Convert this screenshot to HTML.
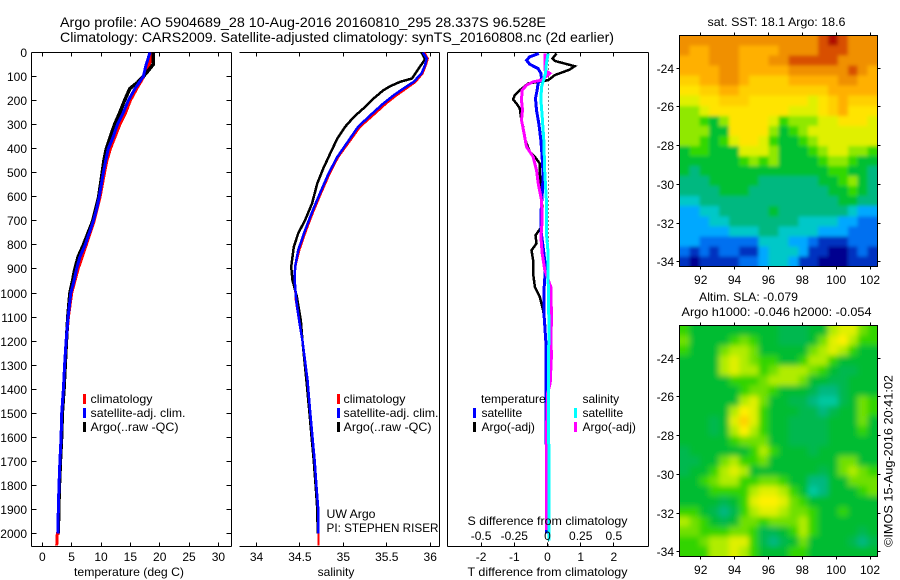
<!DOCTYPE html>
<html lang="en">
<head>
<meta charset="utf-8">
<title>Argo profile chart</title>
<style>
html,body{margin:0;padding:0;background:#fff;width:900px;height:580px;overflow:hidden}
svg{display:block;font-family:"Liberation Sans",Arial,sans-serif;font-size:12px;fill:#000}
.ax{stroke:#000;stroke-width:1;fill:none;shape-rendering:crispEdges}
.ln{fill:none;stroke-linejoin:miter;shape-rendering:crispEdges}
</style>
</head>
<body>
<svg id="chart" xmlns="http://www.w3.org/2000/svg" width="900" height="580" viewBox="0 0 900 580">
<defs>
<filter id="soft1" x="-5%" y="-5%" width="110%" height="110%"><feGaussianBlur stdDeviation="1.8"/></filter>
<filter id="soft2" x="-5%" y="-5%" width="110%" height="110%"><feGaussianBlur stdDeviation="3"/></filter>
<clipPath id="clip-map1"><rect x="679.5" y="35.5" width="198" height="231"/></clipPath>
<clipPath id="clip-map2"><rect x="679.5" y="325.5" width="198" height="231"/></clipPath>
</defs>
<text x="60" y="27" font-size="14" textLength="486" lengthAdjust="spacingAndGlyphs">Argo profile: AO 5904689_28 10-Aug-2016 20160810_295 28.337S 96.528E</text>
<text x="60" y="42" font-size="14" textLength="554" lengthAdjust="spacingAndGlyphs">Climatology: CARS2009. Satellite-adjusted climatology: synTS_20160808.nc (2d earlier)</text>

<text x="129" y="576" text-anchor="middle" textLength="110" lengthAdjust="spacingAndGlyphs">temperature (deg C)</text>
<text x="336" y="576" text-anchor="middle">salinity</text>

<g>
<rect x="83" y="394" width="3" height="10" fill="#f00"/>
<text x="90.5" y="403" textLength="62" lengthAdjust="spacingAndGlyphs">climatology</text>
<rect x="83" y="408" width="3" height="10" fill="#00f"/>
<text x="90.5" y="417" textLength="95" lengthAdjust="spacingAndGlyphs">satellite-adj. clim.</text>
<rect x="83" y="422" width="3" height="10" fill="#000"/>
<text x="90.5" y="431" textLength="88" lengthAdjust="spacingAndGlyphs">Argo(..raw -QC)</text>
</g>
<g>
<rect x="337" y="394" width="3" height="10" fill="#f00"/>
<text x="343.5" y="403" textLength="62" lengthAdjust="spacingAndGlyphs">climatology</text>
<rect x="337" y="408" width="3" height="10" fill="#00f"/>
<text x="343.5" y="417" textLength="95" lengthAdjust="spacingAndGlyphs">satellite-adj. clim.</text>
<rect x="337" y="422" width="3" height="10" fill="#000"/>
<text x="343.5" y="431" textLength="88" lengthAdjust="spacingAndGlyphs">Argo(..raw -QC)</text>
</g>
<text x="326.5" y="518" textLength="49" lengthAdjust="spacingAndGlyphs">UW Argo</text>
<text x="326.5" y="532" textLength="112" lengthAdjust="spacingAndGlyphs">PI: STEPHEN RISER</text>

<text x="707.5" y="26" textLength="138" lengthAdjust="spacingAndGlyphs">sat. SST: 18.1 Argo: 18.6</text>
<text x="699" y="301" textLength="99" lengthAdjust="spacingAndGlyphs">Altim. SLA: -0.079</text>
<text x="681.5" y="316" textLength="190" lengthAdjust="spacingAndGlyphs">Argo h1000: -0.046 h2000: -0.054</text>
<text transform="translate(892.5 547) rotate(-90)" textLength="172" lengthAdjust="spacingAndGlyphs">©IMOS 15-Aug-2016 20:41:02</text>
</svg>

<script>
/* ---------- shared tick labels ---------- */
const depthTicks = [0,100,200,300,400,500,600,700,800,900,1000,1100,1200,1300,1400,1500,1600,1700,1800,1900,2000];
const tempTicks = [0,5,10,15,20,25,30];
const salTicks = [34,34.5,35,35.5,36];
const diffTTicks = [-2,-1,0,1,2];
const diffSTicks = [-0.5,-0.25,0,0.25,0.5];
const lonTicks = [92,94,96,98,100,102];
const latTicks = [24,26,28,30,32,34];

/* ---------- temperature profiles ---------- */
const tempClimDepth = [0,30,50,100,150,200,250,300,350,400,450,500,600,700,800,900,1000,1100,1200,1300,1400,1500,1600,1700,1800,1900,2000,2000,2050];
const tempClimValue = [18.6,18.5,18.2,17.3,16.1,15,14.2,13.2,12.4,11.6,11,10.6,9.85,8.85,7.5,6.1,5,4.45,4.1,3.82,3.62,3.34,3.2,3.02,2.87,2.75,2.68,2.55,2.45];
const tempSatDepth = [0,50,100,150,200,250,300,350,400,450,500,550,600,650,700,750,800,850,900,950,1000,1100,1200,1300,1400,1500,1600,1700,1800,1900,2000];
const tempSatValue = [18.35,17.7,17.2,15.8,14.65,13.8,12.8,12.1,11.25,10.8,10.4,10.05,9.7,9.27,8.7,8,7.3,6.4,5.85,5.4,4.85,4.4,4.05,3.8,3.6,3.3,3.2,3,2.85,2.73,2.67];
const tempArgoDepth = [0,50,80,100,125,150,200,250,300,350,400,450,500,600,700,800,850,900,950,1000,1100,1200,1300,1400,1500,1600,1700,1800,1900,2000];
const tempArgoValue = [18.9,18.9,17.9,17.2,16.2,14.9,14,13.2,12.3,11.6,10.9,10.5,10.2,9.6,8.6,7,6.1,5.55,5.15,4.7,4.35,4.1,3.9,3.7,3.4,3.28,3.08,2.92,2.8,2.72];

/* ---------- salinity profiles ---------- */
const salClimDepth = [0,25,50,87,122,150,178,212,261,309,377,434,503,586,663,739,822,891,947,1030,1113,1200,1362,1500,1600,1700,1800,1900,2000,2050];
const salClimValue = [35.93,35.97,35.95,35.91,35.83,35.72,35.61,35.49,35.34,35.19,35.055,34.94,34.84,34.74,34.65,34.57,34.49,34.445,34.44,34.455,34.49,34.53,34.587,34.62,34.645,34.67,34.69,34.71,34.714,34.714];
const salSatDepth = [0,25,53,87,122,150,178,212,261,309,377,434,503,586,663,739,822,891,947,1030,1113,1200,1362,1500,1600,1700,1800,1900,2000];
const salSatValue = [35.916,35.96,35.94,35.9,35.81,35.69,35.58,35.46,35.31,35.17,35.04,34.93,34.83,34.73,34.64,34.56,34.48,34.445,34.44,34.457,34.49,34.53,34.587,34.62,34.645,34.67,34.69,34.71,34.714];
const salArgoDepth = [0,28,108,122,140,157,191,233,268,309,358,419,481,544,627,697,752,808,891,947,1016,1113,1200,1362,1500,1600,1700,1800,1900,2000];
const salArgoValue = [35.9,35.94,35.79,35.655,35.54,35.46,35.35,35.23,35.12,35.02,34.93,34.85,34.77,34.7,34.64,34.56,34.48,34.43,34.4,34.415,34.465,34.51,34.53,34.575,34.61,34.635,34.66,34.68,34.7,34.705];

/* ---------- difference profiles ---------- */
const diffTSatDepth = [4,18,32,49,67,87,108,129,157,191,240,295,365,434,503,572,670,739,808,891,975,1100,1200,1300,1400,1500,1700,2000];
const diffTSatValue = [-0.262,-0.533,-0.633,-0.533,-0.282,-0.2,-0.18,-0.282,-0.313,-0.362,-0.332,-0.262,-0.2,-0.163,-0.133,-0.152,-0.2,-0.2,-0.133,-0.06,-0.1,-0.1,-0.05,-0.04,-0.05,-0.05,-0.03,-0.03];
const diffTArgoDepth = [4,25,35,46,57,71,85,94,115,122,129,157,177,195,212,232,267,309,358,413,434,462,503,572,642,725,760,794,822,863,919,975,1016,1072,1113,1200,1300,1500,2000];
const diffTArgoValue = [0.27,0.15,0.22,0.52,0.82,0.67,0.4,0.22,0.02,-0.282,-0.583,-0.835,-0.985,-1.035,-0.935,-0.835,-0.8,-0.735,-0.683,-0.533,-0.38,-0.232,-0.232,-0.18,-0.163,-0.18,-0.362,-0.33,-0.482,-0.433,-0.433,-0.38,-0.232,-0.133,-0.08,-0.05,-0.04,-0.03,-0.03];
const diffSSatDepth = [4,46,87,143,198,267,365,503,614,753,836,947,1100,1200,1400,1800,2030];
const diffSSatValue = [0.0045,-0.008,-0.015,-0.045,-0.05,-0.04,-0.028,-0.02,-0.008,-0.008,0.005,0.005,0.01,0.01,0.006,0.012,0.012];
const diffSArgoDepth = [4,32,73,87,115,122,136,157,198,240,281,337,392,434,489,544,614,697,767,836,905,975,1100,1210,1252,1376,1418,1584,1723,1986];
const diffSArgoValue = [-0.02,-0.02,-0.02,0.017,-0.045,-0.108,-0.158,-0.191,-0.196,-0.188,-0.196,-0.176,-0.158,-0.108,-0.083,-0.07,-0.045,-0.04,-0.05,-0.04,-0.02,0.025,0.03,0.025,0.03,0.02,0,-0.008,-0.008,-0.008];

/* ---------- SST map (colour-level per cell, north to south) ---------- */
const sstGrid = [
[13,13,13,13,13,13,13,13,13,13,13,13,13,13,14,15,14,13,13,13],
[13,12,12,13,13,13,12,12,12,12,13,13,13,13,14,14,14,13,13,13],
[12,12,12,13,13,13,12,12,12,13,13,14,14,14,14,14,13,13,13,13],
[12,12,12,12,13,13,12,12,12,12,12,13,13,13,13,13,13,14,13,12],
[11,11,12,12,13,13,12,11,11,11,11,12,12,12,12,12,13,13,12,12],
[10,10,11,11,12,12,11,11,11,11,11,11,11,11,11,12,12,12,12,12],
[9,9,10,10,11,11,11,10,10,10,10,10,10,9,10,11,12,11,11,11],
[8,8,9,10,10,10,10,10,10,10,10,9,9,9,10,11,12,10,10,10],
[8,8,7,6,8,10,10,10,10,9,7,8,8,8,9,9,10,10,10,9],
[8,8,8,6,6,10,10,10,10,8,6,7,8,9,9,9,9,9,9,9],
[8,8,7,6,7,9,10,10,9,7,6,6,7,8,9,9,9,9,9,9],
[6,7,7,6,6,6,9,9,9,8,6,6,6,7,8,9,9,8,8,7],
[6,6,6,6,6,6,7,8,7,8,6,6,6,6,7,8,8,7,6,6],
[6,5,6,6,6,6,6,6,6,6,6,6,6,6,6,7,7,6,6,5],
[5,5,5,6,6,6,6,6,5,5,5,5,5,5,6,6,7,8,6,5],
[5,5,5,5,6,6,6,5,5,5,5,5,5,5,5,6,6,7,6,5],
[4,4,5,5,5,5,5,5,5,5,5,5,5,5,5,5,6,6,5,5],
[3,3,4,4,5,5,5,5,5,6,5,5,5,5,5,5,5,4,3,3],
[3,3,3,4,4,5,5,5,5,5,5,5,4,4,4,4,3,3,2,2],
[3,3,3,3,3,4,4,4,5,5,4,4,4,4,3,3,3,2,2,2],
[3,3,2,2,2,2,2,2,4,4,4,3,3,2,1,1,1,2,2,2],
[2,1,2,1,2,2,1,1,3,4,4,4,3,1,1,0,0,1,2,1],
[1,0,1,1,1,1,2,2,3,4,4,3,1,1,0,0,0,1,1,1]
];
const sstPalette = ["#00008f","#0030c0","#0070f0","#00a8ff","#00c8c8","#00b880","#00c030","#30d800","#90e800","#e0f000","#ffe400","#ffd000","#ffb000","#f09000","#d85000","#b01000"];

/* ---------- SLA map (colour-level per cell, north to south) ---------- */
const slaGrid = [
[4,3,3,3,3,3,3,3,3,3,2,2,2,3,3,6,7,7,5,4],
[5,3,3,3,3,4,5,4,3,3,2,2,2,3,5,7,8,6,4,4],
[4,3,3,3,5,6,6,5,3,3,3,3,3,5,6,7,6,4,3,3],
[3,3,3,3,6,7,6,5,4,4,3,3,4,6,6,4,3,3,3,3],
[3,3,3,3,6,7,6,6,4,5,6,6,6,5,4,3,2,2,3,3],
[3,3,3,3,3,4,4,4,5,6,6,6,5,3,3,2,2,3,3,3],
[3,3,3,3,3,3,4,5,5,4,3,3,3,2,1,1,2,3,3,3],
[3,3,3,3,3,3,6,7,5,3,3,2,2,1,0,0,2,3,5,4],
[3,3,3,3,3,6,8,7,4,3,3,3,2,2,1,2,3,3,5,4],
[3,3,3,2,3,7,9,7,4,3,3,2,2,2,2,3,3,3,5,3],
[3,3,3,2,3,6,8,6,4,3,3,2,2,2,2,3,3,3,4,3],
[3,3,3,3,3,4,5,5,5,3,3,2,2,2,2,3,3,3,3,3],
[2,3,3,3,3,3,3,4,6,4,3,3,3,2,3,3,3,3,3,3],
[2,2,3,3,5,6,4,4,5,3,3,3,3,3,3,3,5,5,3,3],
[2,3,3,4,6,7,6,3,3,3,3,3,3,3,2,3,5,6,5,4],
[3,3,4,5,6,6,4,4,5,5,4,3,3,1,1,3,3,5,5,5],
[3,3,3,4,4,4,4,6,7,7,6,4,3,0,1,3,3,3,4,5],
[3,3,3,3,2,3,4,7,8,8,7,5,4,3,3,3,3,3,3,3],
[4,4,3,2,1,2,4,6,7,7,6,5,5,4,3,3,4,3,3,3],
[6,5,4,3,2,3,5,5,4,5,5,5,6,4,3,3,3,3,3,3],
[5,5,4,4,4,5,5,4,2,2,3,4,6,4,3,3,3,3,2,3],
[4,4,5,6,6,7,7,4,2,1,2,3,5,3,3,3,3,2,1,2],
[4,4,4,6,6,7,6,4,3,3,3,4,4,3,3,3,3,3,3,3]
];
const slaPalette = ["#00c8a0","#00b880","#00b850","#00bc30","#30d400","#70e000","#b0ec00","#e0f000","#fff000","#ffd000","#ffb000"];
const mapLonEdges = [90.75,102.44];
const mapLatEdges = [22.3,34.25];

/* ---------- axis functions ---------- */
const yDepth = d => 52.5 + d * 0.2405;
const xTemp = v => 42.3 + v * 5.87;
const xSal = v => 256.5 + (v - 34) * 86.85;
const xDiffT = v => 547.5 + v * 33.2;
const xDiffS = v => 547.5 + v * 132.8;
const xLon = v => 700.7 + (v - 92) * 16.93;
const yLat1 = v => 68.3 + (v - 24) * 19.34;
const yLat2 = v => 358.3 + (v - 24) * 19.34;

const NS = "http://www.w3.org/2000/svg";
const svg = document.getElementById("chart");

function make(tag, parent, attrs, name) {
  const el = document.createElementNS(NS, tag);
  for (const k in attrs) el.setAttribute(k, attrs[k]);
  
  
  parent.appendChild(el);
  return el;
}
function label(parent, x, y, s, anchor, name) {
  const t = make("text", parent, {x: x, y: y, "text-anchor": anchor}, name);
  t.textContent = s;
  return t;
}
function line(parent, x1, y1, x2, y2, name) {
  return make("line", parent, {x1: x1, y1: y1, x2: x2, y2: y2, class: "ax"}, name);
}
function snap(v) { return Math.round(v - 0.5) + 0.5; }

function series(parent, xs, ds, xf, color, width, name) {
  const pts = xs.map((v, i) => xf(v).toFixed(1) + "," + yDepth(ds[i]).toFixed(1)).join(" ");
  return make("polyline", parent, {points: pts, class: "ln", stroke: color, "stroke-width": width}, name);
}

function panel(name, left, right, hasLeft, hasRightTicks, xticks, xf, labelX) {
  const g = make("g", svg, {}, name);
  const top = 52.5, bot = 546.5;
  line(g, left, top, right, top, "top-axis-line");
  line(g, left, bot, right, bot, "bottom-axis-line");
  if (hasLeft) line(g, left, top, left, bot, "left-axis-line");
  line(g, right, top, right, bot, "right-axis-line");
  xticks.forEach(v => {
    const x = snap(xf(v));
    line(g, x, top, x, top + 4, "top-tick");
    line(g, x, bot, x, bot - 4, "bottom-tick");
    if (labelX) label(g, xf(v), 561, String(v), "middle", "x-tick-label");
  });
  if (hasRightTicks) {
    depthTicks.forEach(d => {
      const y = snap(yDepth(d));
      line(g, right, y, right - 5, y, "right-tick");
      line(g, left, y, left + 5, y, "left-tick");
      label(g, 27, y + 4.5, String(d), "end", "depth-tick-label");
    });
  }
  return g;
}

/* temperature panel */
const p1 = panel("temperature-panel", 31.5, 231.5, true, true, tempTicks, xTemp, true);
series(p1, tempClimValue, tempClimDepth, xTemp, "#f00", 3, "temperature-climatology-line");
series(p1, tempArgoValue, tempArgoDepth, xTemp, "#000", 3.5, "temperature-argo-line");
series(p1, tempSatValue, tempSatDepth, xTemp, "#00f", 3, "temperature-satellite-line");

/* salinity panel */
const p2 = panel("salinity-panel", 239.5, 439.5, false, false, salTicks, xSal, true);
series(p2, salClimValue, salClimDepth, xSal, "#f00", 2.5, "salinity-climatology-line");
series(p2, salArgoValue, salArgoDepth, xSal, "#000", 2.5, "salinity-argo-line");
series(p2, salSatValue, salSatDepth, xSal, "#00f", 2.5, "salinity-satellite-line");

/* difference panel */
const p3 = panel("difference-panel", 447.5, 648.5, true, false, diffTTicks, xDiffT, false);
diffTTicks.forEach(v => label(p3, xDiffT(v), 561, String(v), "middle", "t-difference-tick-label"));
make("line", p3, {x1: xDiffT(0) + 1, y1: 52.5, x2: xDiffT(0) + 1, y2: 546.5, stroke: "#000", "stroke-width": 1, "stroke-dasharray": "1 3", "shape-rendering": "crispEdges"}, "zero-reference-line");
series(p3, diffTArgoValue, diffTArgoDepth, xDiffT, "#000", 2.5, "t-difference-argo-line");
series(p3, diffTSatValue, diffTSatDepth, xDiffT, "#00f", 3, "t-difference-satellite-line");
series(p3, diffSArgoValue, diffSArgoDepth, xDiffS, "#f0f", 3, "s-difference-argo-line");
series(p3, diffSSatValue, diffSSatDepth, xDiffS, "#0ff", 3, "s-difference-satellite-line");
diffSTicks.forEach(v => label(p3, xDiffS(v), 540, String(v), "middle", "s-difference-tick-label"));

/* text and legend of the difference panel sit above its lines */
const sTitle = label(p3, 467.5, 525, "S difference from climatology", "start", "s-difference-axis-title");
sTitle.setAttribute("textLength", "160");
sTitle.setAttribute("lengthAdjust", "spacingAndGlyphs");
const tTitle = label(p3, 467.5, 576, "T difference from climatology", "start", "t-difference-axis-title");
tTitle.setAttribute("textLength", "160");
tTitle.setAttribute("lengthAdjust", "spacingAndGlyphs");
const diffLegend = make("g", p3, {}, "difference-legend");
label(diffLegend, 481, 403, "temperature", "start", "legend-heading-temperature");
make("rect", diffLegend, {x: 473, y: 408, width: 3, height: 10, fill: "#00f"}, "legend-swatch-t-satellite");
label(diffLegend, 481.5, 417, "satellite", "start", "legend-entry-t-satellite");
make("rect", diffLegend, {x: 473, y: 422, width: 3, height: 10, fill: "#000"}, "legend-swatch-t-argo");
label(diffLegend, 481.5, 431, "Argo(-adj)", "start", "legend-entry-t-argo");
label(diffLegend, 582.5, 403, "salinity", "start", "legend-heading-salinity");
make("rect", diffLegend, {x: 574, y: 408, width: 3, height: 10, fill: "#0ff"}, "legend-swatch-s-satellite");
label(diffLegend, 582.5, 417, "satellite", "start", "legend-entry-s-satellite");
make("rect", diffLegend, {x: 574, y: 422, width: 3, height: 10, fill: "#f0f"}, "legend-swatch-s-argo");
label(diffLegend, 582.5, 431, "Argo(-adj)", "start", "legend-entry-s-argo");

/* maps */
function mapPanel(name, grid, palette, yLat, clip, filter, base, labelBaseline) {
  const g = make("g", svg, {}, name);
  const x0 = 679.5, x1 = 877.5;
  const y0 = yLat(mapLatEdges[0]), y1 = yLat(mapLatEdges[1]);
  const holder = make("g", g, {"clip-path": "url(#" + clip + ")"}, name + "-cells-clip");
  make("rect", holder, {x: x0, y: y0, width: x1 - x0, height: y1 - y0, fill: base}, name + "-background");
  const cells = make("g", holder, {filter: "url(#" + filter + ")", "shape-rendering": "crispEdges"}, name + "-cells");
  const nr = grid.length, nc = grid[0].length;
  const dLon = (mapLonEdges[1] - mapLonEdges[0]) / nc;
  const dLat = (mapLatEdges[1] - mapLatEdges[0]) / nr;
  for (let r = 0; r < nr; r++) {
    for (let c = 0; c < nc; c++) {
      const xa = xLon(mapLonEdges[0] + c * dLon), xb = xLon(mapLonEdges[0] + (c + 1) * dLon);
      const ya = yLat(mapLatEdges[0] + r * dLat), yb = yLat(mapLatEdges[0] + (r + 1) * dLat);
      const grow = (c === 0 ? 8 : 0);
      const growR = (c === nc - 1 ? 8 : 0.5);
      const growT = (r === 0 ? 8 : 0);
      const growB = (r === nr - 1 ? 8 : 0.5);
      make("rect", cells, {x: xa - grow, y: ya - growT, width: xb - xa + grow + growR, height: yb - ya + growT + growB, fill: palette[grid[r][c]]}, "heatmap-cell");
    }
  }
  make("rect", g, {x: x0, y: y0, width: x1 - x0, height: y1 - y0, class: "ax"}, name + "-frame");
  lonTicks.forEach(v => {
    const x = snap(xLon(v));
    line(g, x, y0, x, y0 - 3, "lon-tick-top");
    line(g, x, y1, x, y1 + 3, "lon-tick-bottom");
    label(g, xLon(v), labelBaseline, String(v), "middle", "longitude-tick-label");
  });
  latTicks.forEach(v => {
    const y = snap(yLat(v));
    line(g, x0, y, x0 - 3, y, "lat-tick-left");
    line(g, x1, y, x1 + 3, y, "lat-tick-right");
    label(g, 674, y + 4.5, "-" + v, "end", "latitude-tick-label");
  });
}
mapPanel("sst-map", sstGrid, sstPalette, yLat1, "clip-map1", "soft1", "#00c030", 284);
mapPanel("sla-map", slaGrid, slaPalette, yLat2, "clip-map2", "soft2", "#00bc30", 574);
</script>
</body>
</html>
